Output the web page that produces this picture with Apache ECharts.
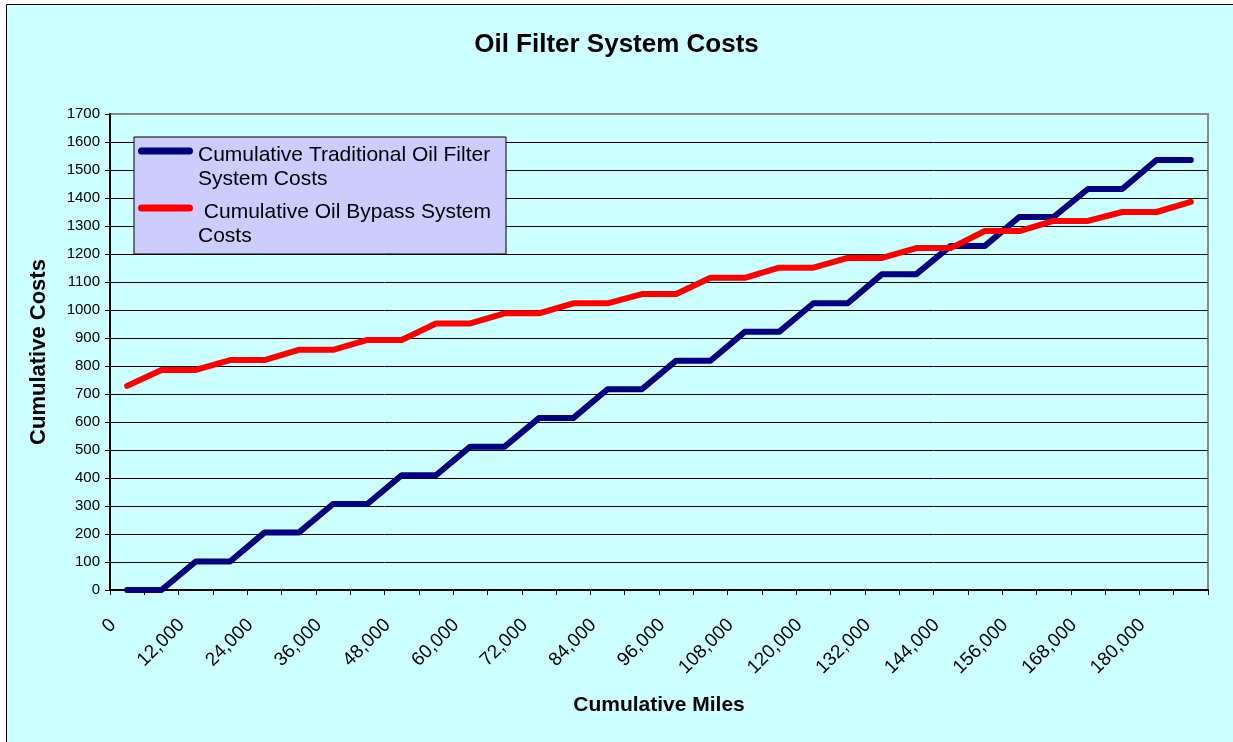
<!DOCTYPE html>
<html><head><meta charset="utf-8">
<script src="https://cdn.jsdelivr.net/npm/echarts@6/dist/echarts.min.js"></script>
<style>html,body{margin:0;padding:0;background:#fff}#c{width:1233px;height:742px}</style>
</head><body><div id="c"></div>
<script>
const categories = ['0','6,000','12,000','18,000','24,000','30,000','36,000','42,000','48,000','54,000',
  '60,000','66,000','72,000','78,000','84,000','90,000','96,000','102,000','108,000','114,000',
  '120,000','126,000','132,000','138,000','144,000','150,000','156,000','162,000','168,000','174,000',
  '180,000','186,000'];
const traditional = [0,0,102,102,205,205,307,307,410,410,512,512,614,614,717,717,
  819,819,922,922,1024,1024,1128,1128,1229,1229,1332,1332,1432,1432,1536,1536];
const bypass = [729,786,786,821,821,858,858,893,893,952,952,988,988,1024,1024,1057,
  1057,1115,1115,1151,1151,1186,1186,1221,1221,1282,1282,1318,1318,1350,1350,1386];
const seriesNames = ['Cumulative Traditional Oil Filter System Costs', ' Cumulative Oil Bypass System Costs'];
const legendLabels = ['Cumulative Traditional Oil Filter\nSystem Costs', ' Cumulative Oil Bypass System\nCosts'];
const yMin = 0, yMax = 1700, yInterval = 100;

const FF = 'Liberation Sans, Arial, sans-serif';
const chart = echarts.init(document.getElementById('c'), null, {renderer: 'canvas'});
chart.setOption({
  animation: false,
  backgroundColor: '#ffffff',
  graphic: [{
    type: 'rect', z: -10, silent: true,
    shape: {x: 6.5, y: 4.5, width: 1240, height: 760},
    style: {fill: '#ccffff', stroke: '#000', lineWidth: 1}
  }],
  title: {
    text: 'Oil Filter System Costs', left: 'center', top: 27,
    textStyle: {fontFamily: FF, fontSize: 26, fontWeight: 'bold', color: '#000'}
  },
  legend: {
    orient: 'vertical', left: 134, top: 137,
    backgroundColor: '#ccccff', borderColor: '#000', borderWidth: 1,
    padding: [6, 6, 6, 4], itemGap: 9, itemWidth: 55, itemHeight: 48,
    icon: 'path://M0,0L0.01,0M55,48L54.99,48M3.5,4.5L51.5,4.5A3.5,3.5,0,0,1,51.5,11.5L3.5,11.5A3.5,3.5,0,0,1,3.5,4.5Z',
    itemStyle: {borderWidth: 0},
    data: seriesNames,
    formatter: function (name) { return legendLabels[seriesNames.indexOf(name)]; },
    textStyle: {fontFamily: FF, fontSize: 21, lineHeight: 24, color: '#000', width: 302}
  },
  grid: {
    left: 110, right: 25, top: 114, bottom: 152,
    show: true, backgroundColor: 'transparent', borderColor: '#888', borderWidth: 2
  },
  xAxis: {
    type: 'category', data: categories, boundaryGap: true,
    name: 'Cumulative Miles', nameLocation: 'middle', nameGap: 105,
    nameTextStyle: {fontFamily: FF, fontSize: 21, fontWeight: 'bold', color: '#000'},
    axisLine: {lineStyle: {color: '#000', width: 2}},
    axisTick: {show: true, interval: 0, length: 5, lineStyle: {color: '#000'}},
    axisLabel: {interval: 1, rotate: 45, fontFamily: FF, fontSize: 19, color: '#000',
                margin: 18, padding: [0, 20, 0, 0]},
    splitLine: {show: false}
  },
  yAxis: {
    type: 'value', min: yMin, max: yMax, interval: yInterval,
    name: 'Cumulative Costs', nameLocation: 'middle', nameGap: 60, nameRotate: 90,
    nameTextStyle: {fontFamily: FF, fontSize: 22, fontWeight: 'bold', color: '#000'},
    axisLine: {show: true, lineStyle: {color: '#000', width: 2}},
    axisTick: {show: true, length: 5, lineStyle: {color: '#000'}},
    axisLabel: {fontFamily: FF, fontSize: 15, color: '#000', margin: 10,
                formatter: function (v) { return String(v); }},
    splitLine: {show: true, showMaxLine: false, lineStyle: {color: '#000', width: 1}}
  },
  series: [
    {name: seriesNames[0], type: 'line', data: traditional, symbol: 'none',
     color: '#000080', lineStyle: {color: '#000080', width: 6, cap: 'round', join: 'round'}},
    {name: seriesNames[1], type: 'line', data: bypass, symbol: 'none',
     color: '#ff0000', lineStyle: {color: '#ff0000', width: 6, cap: 'round', join: 'round'}}
  ]
});
</script>
</body></html>
